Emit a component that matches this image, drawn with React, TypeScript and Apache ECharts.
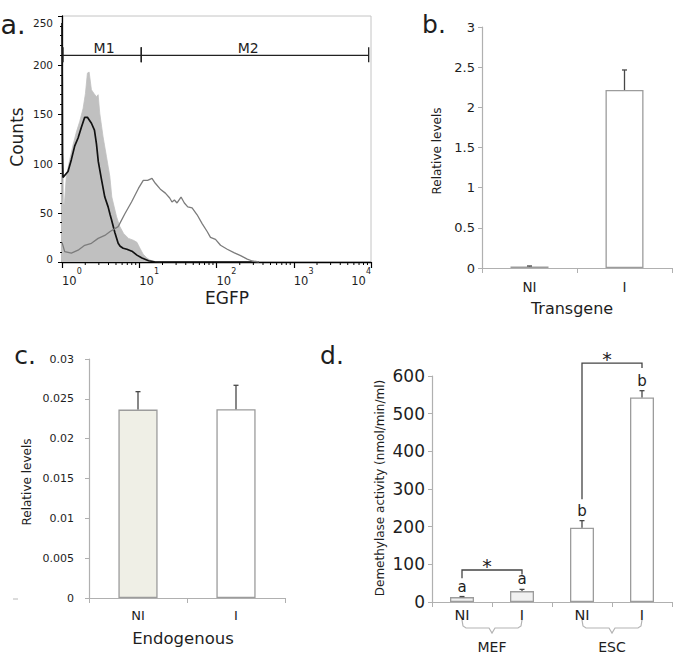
import React, { useEffect, useRef } from 'react';
import * as echarts from 'echarts';

const FONT = '"DejaVu Sans", Verdana, sans-serif';

// ---------- Panel a: flow cytometry histogram (x = log10 EGFP, y = counts) ----------
const shadedHistogram: [number, number][] = [
  [0, 100], [0.013, 60], [0.03, 58], [0.056, 87], [0.1, 104], [0.143, 119], [0.186, 132],
  [0.23, 143], [0.273, 156], [0.303, 171], [0.329, 192], [0.351, 193], [0.381, 175],
  [0.416, 171], [0.446, 168], [0.468, 170], [0.489, 151], [0.532, 127], [0.576, 107],
  [0.619, 87], [0.645, 66], [0.706, 46], [0.749, 36], [0.797, 29], [0.861, 24], [0.926, 22],
  [0.97, 20], [1.009, 14], [1.05, 8], [1.1, 4], [1.139, 2], [1.204, 0.5], [1.273, 0],
];
const blackHistogram: [number, number][] = [
  [0, 243], [0.006, 110], [0.013, 86], [0.078, 92], [0.121, 104], [0.165, 118], [0.208, 126],
  [0.251, 137], [0.294, 147], [0.329, 147], [0.381, 141], [0.42, 134], [0.446, 120],
  [0.47, 102], [0.511, 84], [0.554, 66], [0.597, 56], [0.623, 48], [0.641, 43], [0.684, 30],
  [0.727, 19], [0.753, 16], [0.792, 14], [0.84, 13], [0.905, 11], [0.97, 7], [1.035, 4],
  [1.121, 1.3], [1.208, 0], [2.55, 0],
];
const grayHistogram: [number, number][] = [
  [0, 20], [0.035, 10.5], [0.121, 9], [0.208, 12], [0.294, 17], [0.381, 19], [0.468, 24],
  [0.554, 27], [0.623, 31], [0.727, 36], [0.814, 49], [0.9, 61], [0.991, 75], [1.052, 83],
  [1.108, 83], [1.165, 85], [1.208, 80], [1.273, 74], [1.338, 70], [1.394, 65], [1.424, 61],
  [1.455, 63], [1.489, 60], [1.541, 66], [1.584, 60], [1.628, 56], [1.684, 55], [1.749, 48],
  [1.814, 39], [1.879, 31], [1.922, 25], [1.987, 23], [2.052, 17], [2.139, 13], [2.225, 9.5],
  [2.312, 6.4], [2.398, 3], [2.463, 1], [2.55, 0],
];
const decades = [0, 1, 2, 3];
const minorMultipliers = [2, 3, 4, 5, 6, 7, 8, 9];
const gateNames = ['M1', 'M2'];
const gateStarts = [0.013, 1.026];
const gateEnds = [1.026, 3.97];
const gateLabelX = [0.545, 2.41];
const gateLevel = 210;

// ---------- Panel b: transgene ----------
const transgeneCats = ['NI', 'I'];
const transgeneMeans = [0.02, 2.215];
const transgeneErr = [0.005, 0.25];

// ---------- Panel c: endogenous ----------
const endoCats = ['NI', 'I'];
const endoMeans = [0.02365, 0.0237];
const endoErr = [0.00225, 0.003];

// ---------- Panel d: demethylase activity ----------
const activityCats = ['NI', 'I', 'NI', 'I'];
const activityMeans = [13, 29, 197, 543];
const activityErr = [1.5, 4.5, 19, 18];
const activityLetters = ['a', 'a', 'b', 'b'];
const cellGroups = ['MEF', 'ESC'];
const groupFrom = [0, 2];
const groupTo = [1, 3];
const sigFrom = [0, 2];
const sigTo = [1, 3];
const sigLevel = [85, 634];
const sigLeftEnd = [63, 273];
const sigRightEnd = [73, 621];

const BAR_BORDER = '#9c9c9c';
const AXIS_GRAY = '#b0b0b0';
const TEXT = '#1e1e1e';
const ERR = '#474747';

function errorRenderer(cap: number, letters?: string[]) {
  return (params: any, api: any) => {
    const i = api.value(0);
    const v = api.value(1);
    const e = api.value(2);
    const b = api.coord([i, v]);
    const t = api.coord([i, v + e]);
    const children: any[] = [];
    if (e > 0) {
      children.push({ type: 'line', shape: { x1: b[0], y1: b[1], x2: t[0], y2: t[1] }, style: { stroke: ERR, lineWidth: 1.3 } });
      children.push({ type: 'line', shape: { x1: t[0] - cap, y1: t[1], x2: t[0] + cap, y2: t[1] }, style: { stroke: ERR, lineWidth: 1.3 } });
    }
    if (letters) {
      children.push({
        type: 'text', x: t[0], y: t[1] - 10,
        style: { text: letters[params.dataIndex], fill: TEXT, fontSize: 15, fontFamily: FONT, align: 'center', verticalAlign: 'middle' },
      });
    }
    return { type: 'group', children };
  };
}

export default function App() {
  const ref = useRef<HTMLDivElement>(null);
  useEffect(() => {
    const chart = echarts.init(ref.current!, null, { renderer: 'svg' });
    const minorTicks = decades.flatMap((d) => minorMultipliers.map((m) => [d + Math.log10(m), 0]));

    const catAxisCommon = (gridIndex: number, data: string[], fontSize: number, margin: number) => ({
      type: 'category', gridIndex, data,
      axisLine: { show: true, lineStyle: { color: AXIS_GRAY, width: 1.2 } },
      axisTick: { show: true, length: 5, lineStyle: { color: AXIS_GRAY } },
      axisLabel: { color: TEXT, fontSize, fontFamily: FONT, margin },
      splitLine: { show: false },
    });
    const valAxisCommon = (gridIndex: number, max: number, interval: number, fontSize: number, margin: number, formatter?: any) => ({
      type: 'value', gridIndex, min: 0, max, interval,
      axisLine: { show: true, lineStyle: { color: AXIS_GRAY, width: 1.2 } },
      axisTick: { show: true, length: 4, lineStyle: { color: AXIS_GRAY } },
      axisLabel: { color: TEXT, fontSize, fontFamily: FONT, margin, formatter },
      splitLine: { show: false },
    });

    const option: any = {
      animation: false,
      backgroundColor: '#ffffff',
      grid: [
        { left: 62, top: 16, width: 309, height: 246, show: true, borderColor: '#c4c4c4', borderWidth: 1, backgroundColor: 'transparent' },
        { left: 482, top: 27, width: 190, height: 241 },
        { left: 89, top: 359, width: 196, height: 239 },
        { left: 432, top: 376, width: 240, height: 226 },
      ],
      xAxis: [
        {
          type: 'value', gridIndex: 0, min: 0, max: 4, interval: 1,
          axisLine: { show: true, lineStyle: { color: '#000', width: 1.3 } },
          axisTick: { show: true, length: 6, lineStyle: { color: '#000', width: 1.2 } },
          axisLabel: {
            formatter: (v: number) => `{b|10}{s|${v}}`,
            align: 'left', alignMaxLabel: 'right', margin: 5, lineHeight: 20,
            showMinLabel: true, showMaxLabel: true,
            rich: {
              b: { fontSize: 11.5, fontFamily: FONT, color: TEXT, verticalAlign: 'bottom' },
              s: { fontSize: 8, fontFamily: FONT, color: TEXT, verticalAlign: 'top' },
            },
          },
          splitLine: { show: false },
        },
        catAxisCommon(1, transgeneCats, 13.5, 12),
        catAxisCommon(2, endoCats, 13, 11),
        catAxisCommon(3, activityCats, 14.5, 5),
      ],
      yAxis: [
        {
          type: 'value', gridIndex: 0, min: 0, max: 250, interval: 50,
          axisLine: { show: true, lineStyle: { color: '#000', width: 1.3 } },
          axisTick: { show: true, length: 4, lineStyle: { color: '#000' } },
          minorTick: { show: true, splitNumber: 5, length: 2, lineStyle: { color: '#000' } },
          axisLabel: {
            color: TEXT, fontSize: 10.5, fontFamily: FONT, margin: 9,
            formatter: (v: number) => (v === 250 ? '{t|250}' : v === 0 ? '{z|0}' : String(v)),
            rich: {
              t: { fontSize: 10.5, fontFamily: FONT, color: TEXT, padding: [13, 0, 0, 0] },
              z: { fontSize: 10.5, fontFamily: FONT, color: TEXT, padding: [0, 0, 7, 0] },
            },
          },
          splitLine: { show: false },
        },
        valAxisCommon(1, 3, 0.5, 13, 7),
        valAxisCommon(2, 0.03, 0.005, 11, 15, (v: number) => String(Number(v.toFixed(4)))),
        valAxisCommon(3, 600, 100, 17, 7),
      ],
      series: [
        {
          type: 'line', xAxisIndex: 0, yAxisIndex: 0, data: shadedHistogram, showSymbol: false,
          lineStyle: { color: '#c0c0c0', width: 0.8 }, areaStyle: { color: '#c0c0c0', opacity: 1 }, z: 2,
        },
        {
          type: 'line', xAxisIndex: 0, yAxisIndex: 0, data: blackHistogram, showSymbol: false,
          lineStyle: { color: '#111', width: 1.7 }, z: 3,
        },
        {
          type: 'line', xAxisIndex: 0, yAxisIndex: 0, data: grayHistogram, showSymbol: false,
          lineStyle: { color: '#7c7c7c', width: 1.3 }, z: 4,
        },
        {
          type: 'custom', xAxisIndex: 0, yAxisIndex: 0, data: minorTicks, clip: false, z: 5,
          renderItem: (_p: any, api: any) => {
            const p = api.coord([api.value(0), 0]);
            return { type: 'line', shape: { x1: p[0], y1: p[1], x2: p[0], y2: p[1] + 3 }, style: { stroke: '#000', lineWidth: 1 } };
          },
        },
        {
          type: 'custom', xAxisIndex: 0, yAxisIndex: 0, clip: false, z: 6,
          data: gateNames.map((_n, i) => [gateStarts[i], gateLevel, gateEnds[i], gateLabelX[i]]),
          renderItem: (params: any, api: any) => {
            const a = api.coord([api.value(0), api.value(1)]);
            const b = api.coord([api.value(2), api.value(1)]);
            const l = api.coord([api.value(3), api.value(1)]);
            const st = { stroke: '#222', lineWidth: 1.3 };
            return {
              type: 'group', children: [
                { type: 'line', shape: { x1: a[0], y1: a[1], x2: b[0], y2: b[1] }, style: st },
                { type: 'line', shape: { x1: a[0], y1: a[1] - 8, x2: a[0], y2: a[1] + 7 }, style: st },
                { type: 'line', shape: { x1: b[0], y1: b[1] - 8, x2: b[0], y2: b[1] + 7 }, style: st },
                {
                  type: 'text', x: l[0], y: l[1] - 7,
                  style: { text: gateNames[params.dataIndex], fill: TEXT, fontSize: 14, fontFamily: FONT, align: 'center', verticalAlign: 'middle' },
                },
              ],
            };
          },
        },
        // panel b
        {
          type: 'bar', xAxisIndex: 1, yAxisIndex: 1, barWidth: '40%',
          data: transgeneMeans.map((v, i) => ({ value: v, itemStyle: { color: i === 0 ? '#efefe8' : '#ffffff' } })),
          itemStyle: { borderColor: BAR_BORDER, borderWidth: 1.3 },
        },
        {
          type: 'custom', xAxisIndex: 1, yAxisIndex: 1, clip: false, z: 5,
          data: transgeneMeans.map((v, i) => [i, v, transgeneErr[i]]),
          renderItem: errorRenderer(2.5),
        },
        // panel c
        {
          type: 'bar', xAxisIndex: 2, yAxisIndex: 2, barWidth: '40%',
          data: endoMeans.map((v, i) => ({ value: v, itemStyle: { color: i === 0 ? '#efefe6' : '#ffffff' } })),
          itemStyle: { borderColor: BAR_BORDER, borderWidth: 1.3 },
        },
        {
          type: 'custom', xAxisIndex: 2, yAxisIndex: 2, clip: false, z: 5,
          data: endoMeans.map((v, i) => [i, v, endoErr[i]]),
          renderItem: errorRenderer(2.5),
        },
        // panel d
        {
          type: 'bar', xAxisIndex: 3, yAxisIndex: 3, barWidth: '40%',
          data: activityMeans.map((v, i) => ({ value: v, itemStyle: { color: i < 2 ? '#f1f1f1' : '#ffffff' } })),
          itemStyle: { borderColor: BAR_BORDER, borderWidth: 1.3 },
        },
        {
          type: 'custom', xAxisIndex: 3, yAxisIndex: 3, clip: false, z: 5,
          data: activityMeans.map((v, i) => [i, v, activityErr[i]]),
          renderItem: errorRenderer(2.5, activityLetters),
        },
        {
          type: 'custom', xAxisIndex: 3, yAxisIndex: 3, clip: false, z: 6,
          data: sigFrom.map((f, i) => [f, sigLevel[i], sigTo[i], sigLeftEnd[i], sigRightEnd[i]]),
          renderItem: (_params: any, api: any) => {
            const f = api.value(0), lvl = api.value(1), t = api.value(2);
            const a = api.coord([f, lvl]);
            const b = api.coord([t, lvl]);
            const al = api.coord([f, api.value(3)]);
            const br = api.coord([t, api.value(4)]);
            return {
              type: 'group', children: [
                { type: 'polyline', shape: { points: [[al[0], al[1]], [a[0], a[1]], [b[0], b[1]], [br[0], br[1]]] }, style: { stroke: '#444', lineWidth: 1.3, fill: 'none' } },
                {
                  type: 'text', x: (a[0] + b[0]) / 2 - 5, y: a[1] - 4,
                  style: { text: '*', fill: TEXT, fontSize: 19, fontFamily: FONT, align: 'center', verticalAlign: 'middle' },
                },
              ],
            };
          },
        },
        {
          type: 'custom', xAxisIndex: 3, yAxisIndex: 3, clip: false, z: 6,
          data: groupFrom.map((f, i) => [f, 0, groupTo[i]]),
          renderItem: (params: any, api: any) => {
            const a = api.coord([api.value(0), 0]);
            const b = api.coord([api.value(2), 0]);
            const y0 = a[1];
            const xm = (a[0] + b[0]) / 2;
            const pts = [
              [a[0], y0 + 18], [a[0] + 1, y0 + 24], [a[0] + 4, y0 + 26], [xm - 3, y0 + 26], [xm, y0 + 31],
              [xm + 3, y0 + 26], [b[0] - 4, y0 + 26], [b[0] - 1, y0 + 24], [b[0], y0 + 18],
            ];
            return {
              type: 'group', children: [
                { type: 'polyline', shape: { points: pts }, style: { stroke: '#b4b4b4', lineWidth: 1.2, fill: 'none' } },
                {
                  type: 'text', x: xm, y: y0 + 45,
                  style: { text: cellGroups[params.dataIndex], fill: TEXT, fontSize: 14, fontFamily: FONT, align: 'center', verticalAlign: 'middle' },
                },
              ],
            };
          },
        },
      ],
      graphic: [
        { type: 'text', x: 13, y: 24, style: { text: 'a.', fill: TEXT, fontSize: 27, fontFamily: FONT, align: 'center', verticalAlign: 'middle' } },
        { type: 'text', x: 434, y: 24, style: { text: 'b.', fill: TEXT, fontSize: 25, fontFamily: FONT, align: 'center', verticalAlign: 'middle' } },
        { type: 'text', x: 25, y: 355, style: { text: 'c.', fill: TEXT, fontSize: 25, fontFamily: FONT, align: 'center', verticalAlign: 'middle' } },
        { type: 'text', x: 332, y: 355, style: { text: 'd.', fill: TEXT, fontSize: 25, fontFamily: FONT, align: 'center', verticalAlign: 'middle' } },
        { type: 'text', x: 17, y: 137, rotation: Math.PI / 2, style: { text: 'Counts', fill: TEXT, fontSize: 17, fontFamily: FONT, align: 'center', verticalAlign: 'middle' } },
        { type: 'text', x: 227, y: 298, style: { text: 'EGFP', fill: TEXT, fontSize: 17, fontFamily: FONT, align: 'center', verticalAlign: 'middle' } },
        { type: 'text', x: 437, y: 151, rotation: Math.PI / 2, style: { text: 'Relative levels', fill: TEXT, fontSize: 12, fontFamily: FONT, align: 'center', verticalAlign: 'middle' } },
        { type: 'text', x: 572, y: 308, style: { text: 'Transgene', fill: TEXT, fontSize: 16, fontFamily: FONT, align: 'center', verticalAlign: 'middle' } },
        { type: 'text', x: 27, y: 482, rotation: Math.PI / 2, style: { text: 'Relative levels', fill: TEXT, fontSize: 12, fontFamily: FONT, align: 'center', verticalAlign: 'middle' } },
        { type: 'text', x: 183, y: 638, style: { text: 'Endogenous', fill: TEXT, fontSize: 16.5, fontFamily: FONT, align: 'center', verticalAlign: 'middle' } },
        { type: 'text', x: 380, y: 488, rotation: Math.PI / 2, style: { text: 'Demethylase activity (nmol/min/ml)', fill: TEXT, fontSize: 12, fontFamily: FONT, align: 'center', verticalAlign: 'middle' } },
        { type: 'line', shape: { x1: 13, y1: 599, x2: 18, y2: 599 }, style: { stroke: '#b8b8b8', lineWidth: 1 } },
      ],
    };
    chart.setOption(option);
    return () => chart.dispose();
  }, []);
  return <div ref={ref} style={{ position: 'absolute', left: 0, top: 0, width: 675, height: 655, background: '#fff' }} />;
}
